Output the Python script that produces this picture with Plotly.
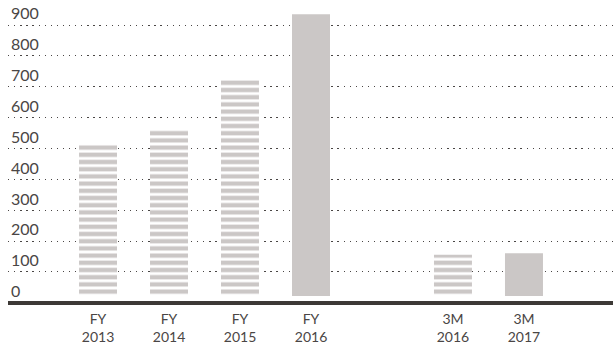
import plotly.graph_objects as go

# Revenue by period (bars); the 3M2016 / 3M2017 group sits after a spacer slot
periods = ["FY<br>2013", "FY<br>2014", "FY<br>2015", "FY<br>2016", "3M<br>2016", "3M<br>2017"]
values = [515, 560, 725, 935, 156, 161]
striped = [True, True, True, False, True, False]
axis_order = ["FY<br>2013", "FY<br>2014", "FY<br>2015", "FY<br>2016", " ", "3M<br>2016", "3M<br>2017"]
y_ticks = [0, 100, 200, 300, 400, 500, 600, 700, 800, 900]

BAR_GREY = "#cbc7c6"
TEXT = "#4a4645"
BASE_LIFT = 22  # bars float slightly above the heavy baseline

fig = go.Figure()
fig.add_trace(go.Bar(
    x=periods,
    y=[v - BASE_LIFT for v in values],
    base=[BASE_LIFT] * len(values),
    width=0.535,
    marker=dict(
        color=BAR_GREY,
        line=dict(width=0),
        pattern=dict(
            shape=["-" if s else "" for s in striped],
            fgcolor=BAR_GREY,
            bgcolor="white",
            size=7.2,
            solidity=0.6,
            fillmode="replace",
        ),
    ),
    hoverinfo="skip",
))

fig.update_layout(
    width=613,
    height=345,
    margin=dict(l=8, r=0, t=0, b=36),
    paper_bgcolor="white",
    plot_bgcolor="white",
    showlegend=False,
    font=dict(family="Lato, sans-serif", size=15, color=TEXT),
    xaxis=dict(
        type="category",
        categoryorder="array",
        categoryarray=axis_order,
        range=[-1.268, 7.254],
        showgrid=False,
        zeroline=False,
        showline=False,
        ticks="",
        tickfont=dict(size=14, color=TEXT),
    ),
    yaxis=dict(
        range=[-20, 981],
        tickvals=y_ticks,
        ticktext=[str(t) for t in y_ticks],
        ticklabelposition="inside top",
        tickfont=dict(size=16, color=TEXT),
        showgrid=True,
        gridcolor="#4a4645",
        gridwidth=1.3,
        griddash="1.3px,4.8px",
        zeroline=True,
        zerolinecolor="#3d3936",
        zerolinewidth=4,
        showline=False,
        ticks="",
    ),
)

fig.write_html("out.html")
